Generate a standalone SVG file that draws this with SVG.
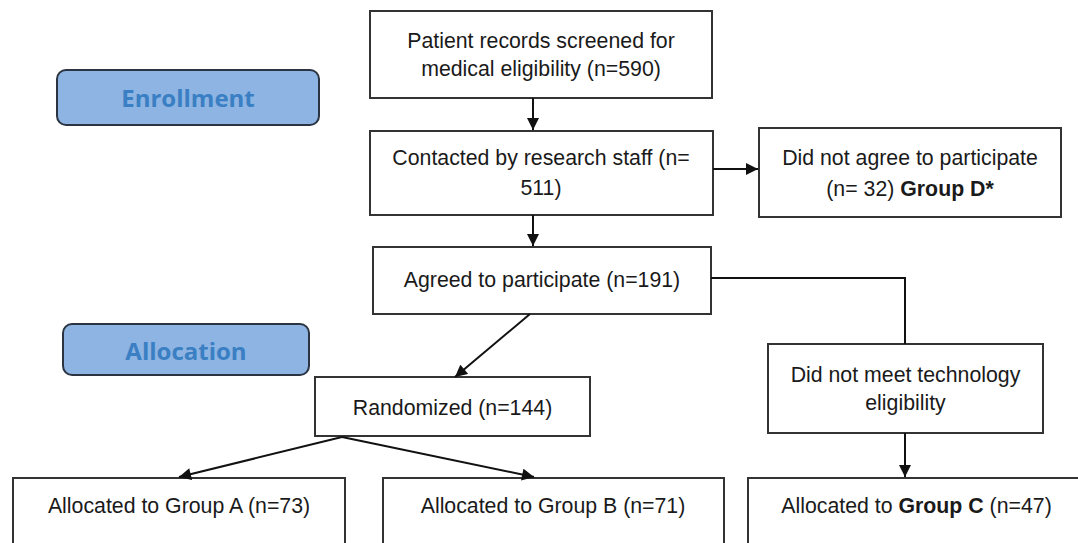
<svg xmlns="http://www.w3.org/2000/svg" width="1078" height="543" viewBox="0 0 1078 543">
<style>
.box{fill:#fff;stroke:#333;stroke-width:2}
.pill{fill:#8db4e2;stroke:#2b3440;stroke-width:2}
.t{font-family:"Liberation Sans",Arial,sans-serif;font-size:21.3px;fill:#1a1a1a;text-anchor:middle}
.b{font-weight:bold}
.p{font-family:"Open Sans","Lato",sans-serif;font-weight:bold;font-size:24px;fill:#3a7fc3;text-anchor:middle}
.c{fill:none;stroke:#111;stroke-width:2}
</style>
<defs>
<marker id="ah" viewBox="0 0 10 10" refX="10" refY="5" markerWidth="6.5" markerHeight="6" markerUnits="strokeWidth" orient="auto">
<path d="M0,0 L10,5 L0,10 z" fill="#111"/>
</marker>
</defs>
<rect width="1078" height="543" fill="#fff"/>
<g id="enrollment">
<rect class="pill" x="57" y="70" width="262" height="55" rx="9"/>
<text class="p" x="188" y="107">Enrollment</text>
</g>
<g id="allocation">
<rect class="pill" x="63" y="324" width="246" height="51" rx="9"/>
<text class="p" x="186" y="360">Allocation</text>
</g>
<g id="screened">
<rect class="box" x="370" y="11" width="342" height="87"/>
<text class="t" x="541" y="48">Patient records screened for</text>
<text class="t" x="541" y="76">medical eligibility (n=590)</text>
</g>
<g id="contacted">
<rect class="box" x="370" y="131" width="343" height="84"/>
<text class="t" x="541" y="165">Contacted by research staff (n=</text>
<text class="t" x="541" y="195">511)</text>
</g>
<g id="declined">
<rect class="box" x="759" y="128" width="302" height="89"/>
<text class="t" x="910" y="165">Did not agree to participate</text>
<text class="t" x="910" y="196">(n= 32) <tspan class="b">Group D*</tspan></text>
</g>
<g id="agreed">
<rect class="box" x="373" y="247" width="338" height="67"/>
<text class="t" x="542" y="287">Agreed to participate (n=191)</text>
</g>
<g id="techfail">
<rect class="box" x="768" y="344" width="275" height="89"/>
<text class="t" x="905.5" y="382">Did not meet technology</text>
<text class="t" x="905.5" y="410">eligibility</text>
</g>
<g id="randomized">
<rect class="box" x="315" y="377" width="275" height="59"/>
<text class="t" x="452.5" y="415">Randomized (n=144)</text>
</g>
<g id="groupA">
<rect class="box" x="13" y="478" width="332" height="80"/>
<text class="t" x="179" y="513">Allocated to Group A (n=73)</text>
</g>
<g id="groupB">
<rect class="box" x="383" y="478" width="341" height="80"/>
<text class="t" x="553" y="513">Allocated to Group B (n=71)</text>
</g>
<g id="groupC">
<rect class="box" x="748" y="478" width="338" height="80"/>
<text class="t" x="916.5" y="513">Allocated to <tspan class="b">Group C</tspan> (n=47)</text>
</g>
<g id="connectors">
<line class="c" x1="533" y1="98" x2="533" y2="130" marker-end="url(#ah)"/>
<line class="c" x1="533" y1="215" x2="533" y2="246" marker-end="url(#ah)"/>
<line class="c" x1="713" y1="169" x2="758" y2="169" marker-end="url(#ah)"/>
<polyline class="c" points="711,278 905,278 905,344"/>
<line class="c" x1="905" y1="433" x2="905" y2="477" marker-end="url(#ah)"/>
<line class="c" x1="530" y1="314" x2="455" y2="377" marker-end="url(#ah)"/>
<line class="c" x1="342" y1="437" x2="179" y2="477" marker-end="url(#ah)"/>
<line class="c" x1="342" y1="437" x2="534" y2="477" marker-end="url(#ah)"/>
</g>
</svg>
